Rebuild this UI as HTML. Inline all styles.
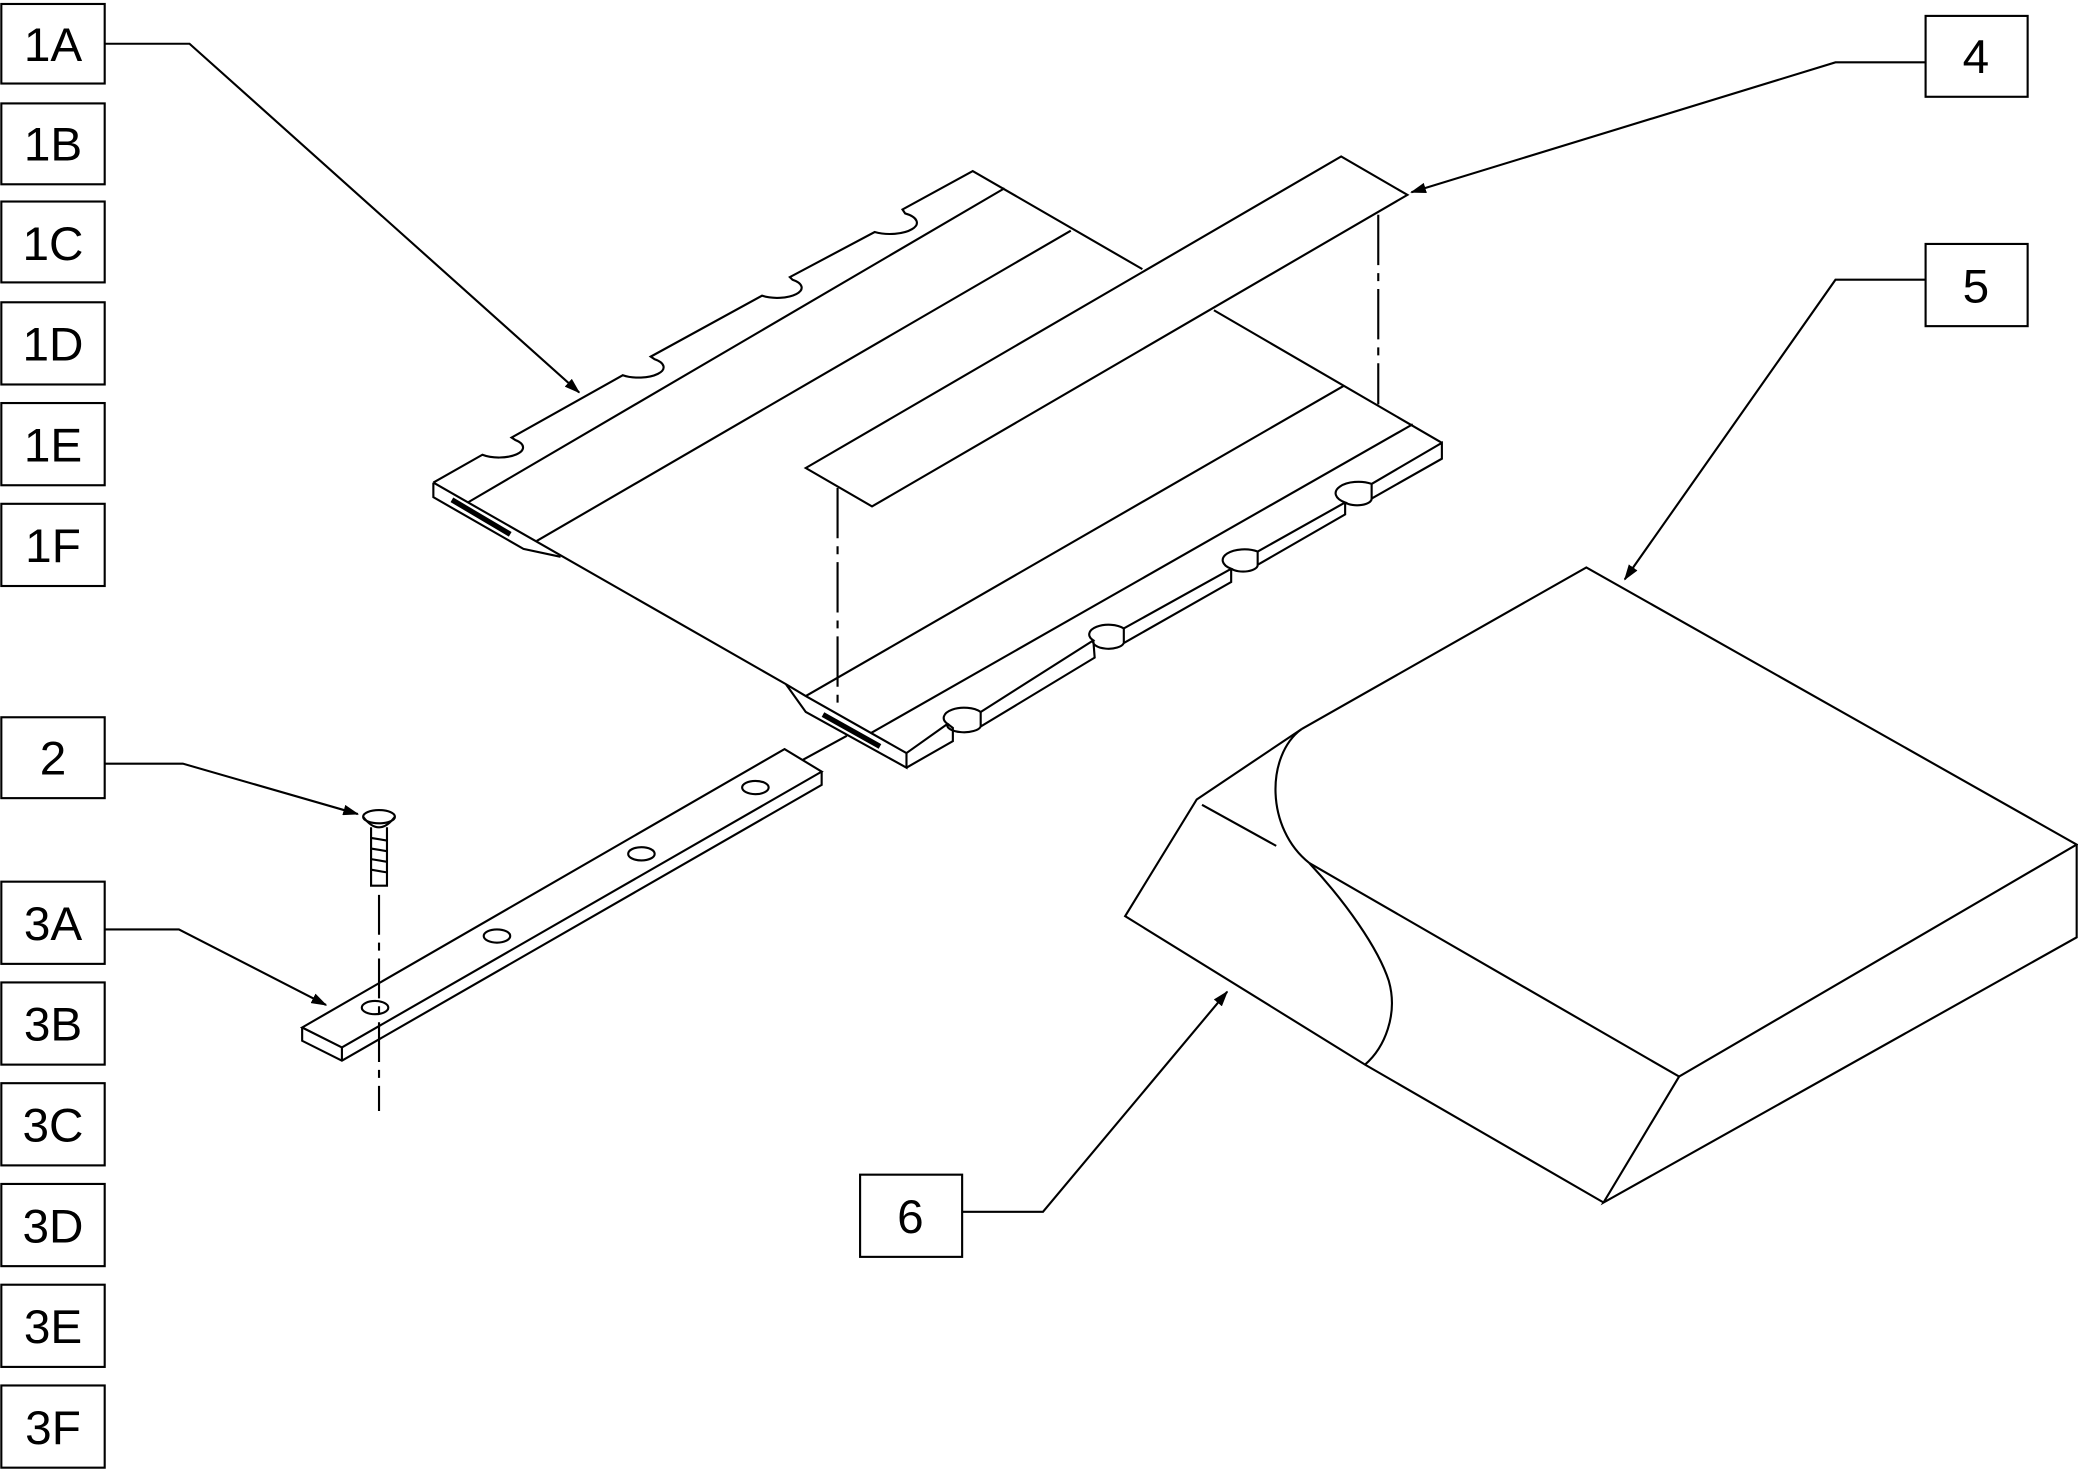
<!DOCTYPE html>
<html><head><meta charset="utf-8"><style>
html,body{margin:0;padding:0;background:#fff;}
svg{display:block;}
text{font-family:"Liberation Sans",sans-serif;font-size:36px;fill:#000;}
</style></head><body>
<svg width="2078" height="1469" viewBox="0 0 1568 1108" preserveAspectRatio="none" xmlns="http://www.w3.org/2000/svg">
<defs><marker id="a" markerWidth="12" markerHeight="8" refX="11" refY="4" orient="auto" markerUnits="userSpaceOnUse"><path d="M0,0 L12,4 L0,8z" fill="#000"/></marker></defs>
<g fill="none" stroke="#000" stroke-width="1.6">
<!-- label boxes -->
<rect x="1" y="3" width="78" height="60"/><rect x="1" y="78" width="78" height="61"/><rect x="1" y="152" width="78" height="61"/>
<rect x="1" y="228" width="78" height="62"/><rect x="1" y="304" width="78" height="62"/><rect x="1" y="380" width="78" height="62"/>
<rect x="1" y="541" width="78" height="61"/>
<rect x="1" y="665" width="78" height="62"/><rect x="1" y="741" width="78" height="62"/><rect x="1" y="817" width="78" height="62"/>
<rect x="1" y="893" width="78" height="62"/><rect x="1" y="969" width="78" height="62"/><rect x="1" y="1045" width="78" height="62"/>
<rect x="1453" y="12" width="77" height="61"/><rect x="1453" y="184" width="77" height="62"/><rect x="649" y="886" width="77" height="62"/>
<!-- leaders -->
<polyline points="79,33 143,33 437,296" marker-end="url(#a)"/>
<polyline points="1453,47 1385,47 1065,145" marker-end="url(#a)"/>
<polyline points="1453,211 1385,211 1226,437" marker-end="url(#a)"/>
<polyline points="726,914 787,914 926,748" marker-end="url(#a)"/>
<polyline points="79,576 138,576 270,614" marker-end="url(#a)"/>
<polyline points="79,701 135,701 246,758" marker-end="url(#a)"/>
<!-- plate 1 back-left edge -->
<path d="M327,364 L364,343 A12,5 0 0 0 389,332 L386,330 L470,283 A12,5 0 0 0 494,271 L491,269 L575,223 A12,5 0 0 0 598,211 L596,209 L660,175 A12,5 0 0 0 683,161 L681,158 L734,129 L862,203"/>
<path d="M916,234 L1088,334"/>
<!-- left front -->
<path d="M327,364 L327,375 L395,414 L423,420"/>
<path d="M327,364 L593,516 L608,525 L684,568 L684,579 L608,537 L593,516"/>
<!-- right front edge with notches -->
<path d="M684,568 L715,546 A12,6 0 0 1 740,537 L825,483 A12,6 0 0 1 848,474 L929,429 A12,6 0 0 1 949,416 L1015,379 A12,6 0 0 1 1035,365 L1088,334 L1088,346 L1035,376 L1035,365"/>
<path d="M1015,379 A11,5 0 0 0 1035,376 M1015,379 L1015,388 L949,426 L949,416 M929,429 A11,5 0 0 0 949,426 M929,429 L929,439 L848,485 L848,474 M825,483 A11,5 0 0 0 848,485 M825,483 L826,496 L740,548 L740,537 M715,546 A12,5 0 0 0 740,548 M715,546 L719,549 L719,559 L684,579"/>
<!-- grooves -->
<line x1="353" y1="379" x2="758" y2="142"/>
<line x1="405" y1="408" x2="808" y2="174"/>
<line x1="608" y1="525" x2="1014" y2="291"/>
<line x1="657" y1="553" x2="1066" y2="320"/>
<line x1="341" y1="377" x2="385" y2="403" stroke-width="4"/>
<line x1="621" y1="539" x2="664" y2="563" stroke-width="4"/>
<!-- strip 4 -->
<path d="M608,353 L1012,118 L1062,147 L658,382 Z" fill="#fff"/>
<line x1="632" y1="368" x2="632" y2="530" stroke-dasharray="38,6,6,6"/>
<line x1="1040" y1="162" x2="1040" y2="305" stroke-dasharray="38,6,6,6"/>
<!-- bar 3 -->
<path d="M228,775 L592,565 L620,582 L258,790 Z"/>
<path d="M228,775 L228,785 L258,800 L620,592 L620,582 M258,790 L258,800"/>
<line x1="606" y1="573" x2="639" y2="555"/>
<ellipse cx="283" cy="760" rx="10" ry="5"/><ellipse cx="375" cy="706" rx="10" ry="5"/>
<ellipse cx="484" cy="644" rx="10" ry="5"/><ellipse cx="570" cy="594" rx="10" ry="5"/>
<!-- screw -->
<ellipse cx="286" cy="616" rx="12" ry="5"/>
<path d="M274,616 Q286,632 298,616"/>
<path d="M280,624 L280,668 L292,668 L292,624"/>
<path d="M280,632 L292,634 M280,640 L292,642 M280,648 L292,650 M280,656 L292,658"/>
<line x1="286" y1="675" x2="286" y2="838" stroke-dasharray="30,6,6,6"/>
<!-- cushion -->
<path d="M982,550 L1197,428 L1567,637 L1267,812 L988,651"/>
<path d="M982,550 C955,570 955,625 988,651"/>
<path d="M1567,637 L1567,707 L1210,907 L1267,812"/>
<path d="M1210,907 L1030,803 L849,691 L903,603 L982,550"/>
<line x1="907" y1="607" x2="963" y2="638"/>
<path d="M988,651 C1015,680 1040,715 1048,740 C1055,765 1045,790 1030,803"/>
</g>
<g text-anchor="middle">
<text x="40" y="46">1A</text><text x="40" y="121">1B</text><text x="40" y="196">1C</text>
<text x="40" y="272">1D</text><text x="40" y="348">1E</text><text x="40" y="424">1F</text>
<text x="40" y="584">2</text>
<text x="40" y="709">3A</text><text x="40" y="785">3B</text><text x="40" y="861">3C</text>
<text x="40" y="937">3D</text><text x="40" y="1013">3E</text><text x="40" y="1089">3F</text>
<text x="1491" y="55">4</text><text x="1491" y="228">5</text><text x="687" y="930">6</text>
</g>
</svg>
</body></html>
